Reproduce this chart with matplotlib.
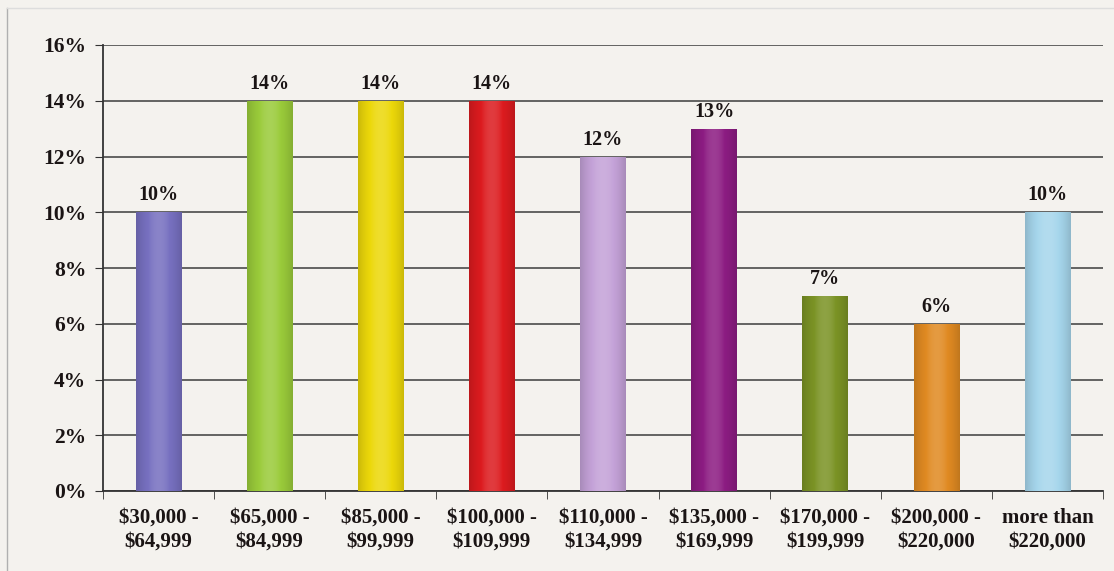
import matplotlib.pyplot as plt
import matplotlib.colors as mcolors
import numpy as np

categories = ["$30,000 -\n$64,999", "$65,000 -\n$84,999", "$85,000 -\n$99,999",
              "$100,000 -\n$109,999", "$110,000 -\n$134,999", "$135,000 -\n$169,999",
              "$170,000 -\n$199,999", "$200,000 -\n$220,000", "more than\n$220,000"]
shares = [10, 14, 14, 14, 12, 13, 7, 6, 10]
colors = ["#7770c0", "#9acb3a", "#ecd80a", "#dc1b1f", "#c4a2d8",
          "#8c1c82", "#7b9325", "#e08a22", "#a6d6ec"]
yticks = [0, 2, 4, 6, 8, 10, 12, 14, 16]

bg = "#f4f2ee"
plt.rcParams["font.family"] = ["Liberation Serif", "DejaVu Serif"]
plt.rcParams["font.weight"] = "bold"

fig = plt.figure(figsize=(11.14, 5.71), dpi=100, facecolor=bg)
ax = fig.add_axes([103 / 1114, 80 / 571, 1000 / 1114, 446 / 571])
ax.set_facecolor(bg)

x = np.arange(len(shares))
width = 0.41
bars = ax.bar(x, shares, width=width, color=colors, zorder=3)

# soft cylinder shading across each bar
t = np.linspace(-1, 1, 64)
shade = 1 - 0.45 * t ** 2
for b, c in zip(bars, colors):
    rgb = np.array(mcolors.to_rgb(c))
    row = np.empty((1, len(t), 3))
    for i, s in enumerate(shade):
        if s >= 0.9:
            row[0, i] = rgb + (1 - rgb) * (s - 0.9) * 1.4
        else:
            row[0, i] = rgb * (0.86 + 0.14 * (s - 0.55) / 0.35)
    row = np.clip(row, 0, 1)
    im = ax.imshow(row, extent=[b.get_x(), b.get_x() + b.get_width(), 0, b.get_height()],
                   aspect="auto", zorder=4, interpolation="bilinear")
    im.set_clip_path(b)

for xi, v in zip(x, shares):
    ax.annotate(f"{v}%", (xi, v), xytext=(0, 5), textcoords="offset points",
                ha="center", va="bottom", fontsize=14.5, fontweight="bold",
                color="#1a1414", zorder=5)

ax.set_xlim(-0.5, len(shares) - 0.5)
ax.set_ylim(0, 16)
ax.set_yticks(yticks)
ax.set_yticklabels([f"{v}%" for v in yticks], fontsize=15.5, fontweight="bold", color="#1a1414")
ax.set_xticks(x)
ax.set_xticklabels(categories, fontsize=15, fontweight="bold", color="#1a1414", linespacing=1.25)
ax.tick_params(axis="x", length=0, pad=12)
ax.set_xticks(np.arange(-0.5, len(shares), 1), minor=True)
ax.tick_params(axis="x", which="minor", length=6, color="#333333")
ax.tick_params(axis="y", length=6, color="#333333", pad=6)

ax.yaxis.grid(True, color="#4a4a4a", linewidth=1.2, zorder=1)
ax.set_axisbelow(True)
for side in ["top", "right"]:
    ax.spines[side].set_visible(False)
ax.spines["left"].set_color("#333333")
ax.spines["bottom"].set_color("#333333")
ax.spines["left"].set_linewidth(1.3)
ax.spines["bottom"].set_linewidth(1.3)

# thin frame lines along the left and top edges
fig.add_artist(plt.Line2D([7 / 1114, 7 / 1114], [0, 1 - 8 / 571], color="#b0b0b0", lw=1))
fig.add_artist(plt.Line2D([7 / 1114, 1], [1 - 8 / 571, 1 - 8 / 571], color="#dddddd", lw=1))

fig.savefig("out.png", dpi=100, facecolor=bg)
